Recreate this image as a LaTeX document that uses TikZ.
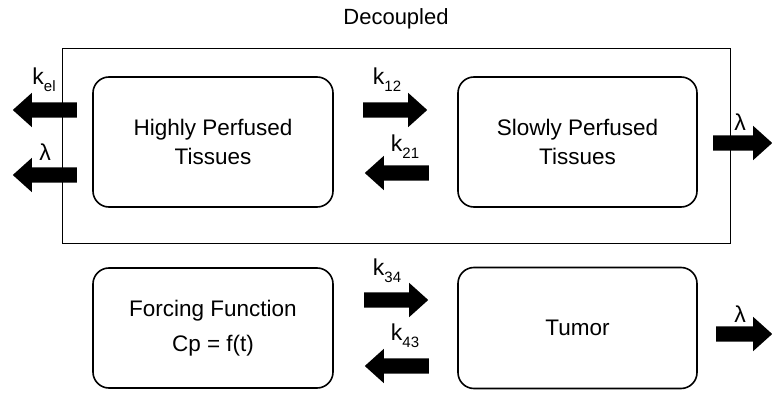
\documentclass[tikz,border=0pt]{standalone}
\usepackage{fontspec}
\setmainfont{Liberation Sans}
\usetikzlibrary{shapes.arrows}
\newcommand{\ksub}[2]{k\raisebox{-0.6ex}{\fontsize{15}{15}\selectfont #2}}
\begin{document}
\begin{tikzpicture}[x=1pt,y=-1pt,
  comp/.style={draw=black, line width=1.6pt, rounded corners=16pt, inner sep=0pt, align=center, font=\fontsize{22.5}{29}\selectfont},
  barrow/.style={single arrow, fill=black, draw=none, inner xsep=0pt, inner ysep=7.5pt, single arrow head extend=9.5pt, single arrow tip angle=84, minimum height=#1, anchor=tail},
  lbl/.style={inner sep=0pt, font=\fontsize{23}{23}\selectfont}]
\useasboundingbox (0,0) rectangle (772,401);
\node[draw=black, line width=0.9pt, minimum width=668pt, minimum height=195pt, inner sep=0pt] (outer) at (396,145.5) {};
\node[inner sep=0pt, font=\fontsize{22}{22}\selectfont] (title) at (396,19) {Decoupled};
\node[comp, minimum width=240pt, minimum height=130pt] (hpt) at (213,142) {Highly Perfused\\Tissues};
\node[comp, minimum width=239pt, minimum height=130pt] (spt) at (577.5,142) {Slowly Perfused\\Tissues};
\node[comp, minimum width=240pt, minimum height=120pt, font=\fontsize{22.5}{35}\selectfont] (ff) at (213,328) {Forcing Function\\Cp = f(t)};
\node[comp, minimum width=239pt, minimum height=121pt] (tum) at (577.5,328) {Tumor};
% block arrows
\node[barrow=64pt, shape border rotate=180] (akel) at (77,110) {};
\node[barrow=64pt, shape border rotate=180] (alamL) at (77,175) {};
\node[barrow=64pt] (a12) at (363,110) {};
\node[barrow=64pt, shape border rotate=180] (a21) at (429,173) {};
\node[barrow=64pt] (a34) at (364,300) {};
\node[barrow=64pt, shape border rotate=180] (a43) at (429,366) {};
\node[barrow=59pt] (alamR1) at (713,143) {};
\node[barrow=56pt] (alamR2) at (716,334) {};
% labels
\node[lbl] (lkel) at (44,80) {\ksub{k}{el}};
\node[lbl] (llamL) at (45,152) {λ};
\node[lbl] (l12) at (387,80) {\ksub{k}{12}};
\node[lbl] (l21) at (405,147) {\ksub{k}{21}};
\node[lbl] (l34) at (387,271) {\ksub{k}{34}};
\node[lbl] (l43) at (405,336) {\ksub{k}{43}};
\node[lbl] (llamR1) at (740,122) {λ};
\node[lbl] (llamR2) at (740,314) {λ};
\end{tikzpicture}
\end{document}
